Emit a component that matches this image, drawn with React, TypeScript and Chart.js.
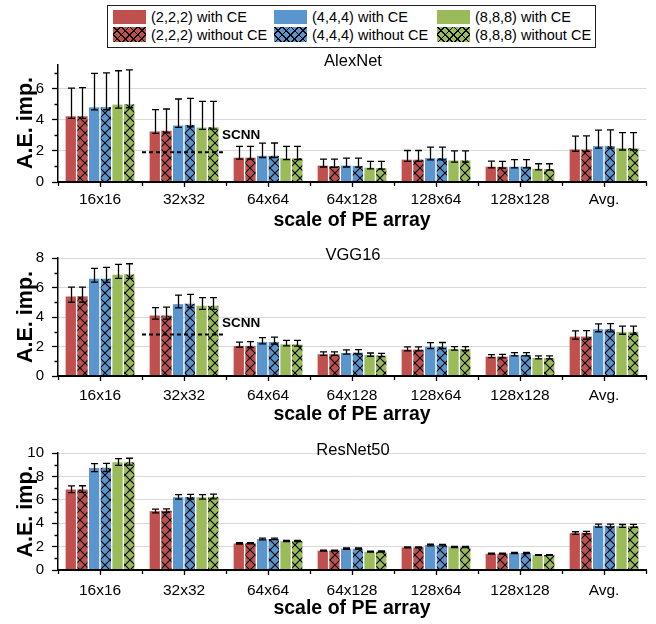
import React, { useEffect, useRef } from 'react';
import { Chart, registerables } from 'chart.js';

Chart.register(...registerables);

const FONT = '"Liberation Sans", Arial, Helvetica, sans-serif';

// ---------- data ----------
const categories = ['16x16', '32x32', '64x64', '64x128', '128x64', '128x128', 'Avg.'];
const seriesLabels = [
  '(2,2,2) with CE',
  '(2,2,2) without CE',
  '(4,4,4) with CE',
  '(4,4,4) without CE',
  '(8,8,8) with CE',
  '(8,8,8) without CE',
];
const panelTitles = ['AlexNet', 'VGG16', 'ResNet50'];
const yMaxes = [7.5, 8, 10];
const yTickStep = 2;
const scnnValues = [1.91, 2.81, null];

// AlexNet: bar value, upper whisker, lower whisker (rows follow seriesLabels)
const alexMean = [
  [4.21, 3.24, 1.56, 1.05, 1.43, 0.98, 2.09],
  [4.21, 3.28, 1.56, 1.02, 1.43, 0.97, 2.08],
  [4.79, 3.62, 1.68, 1.05, 1.53, 0.98, 2.3],
  [4.8, 3.66, 1.68, 1.03, 1.53, 0.98, 2.3],
  [4.96, 3.49, 1.53, 0.92, 1.38, 0.85, 2.17],
  [4.98, 3.51, 1.53, 0.9, 1.38, 0.83, 2.17],
];
const alexHi = [
  [6.02, 4.64, 2.28, 1.47, 2.02, 1.34, 2.94],
  [6.05, 4.68, 2.28, 1.47, 2.02, 1.32, 2.96],
  [6.96, 5.32, 2.49, 1.53, 2.23, 1.43, 3.32],
  [7.0, 5.36, 2.5, 1.53, 2.23, 1.43, 3.34],
  [7.13, 5.17, 2.28, 1.32, 2.0, 1.17, 3.17],
  [7.19, 5.17, 2.28, 1.32, 2.0, 1.17, 3.17],
];
const alexLo = [
  [4.08, 3.12, 1.46, 0.96, 1.32, 0.9, 1.97],
  [4.08, 3.15, 1.46, 0.94, 1.32, 0.89, 1.96],
  [4.62, 3.5, 1.57, 0.96, 1.42, 0.9, 2.17],
  [4.63, 3.54, 1.57, 0.95, 1.42, 0.9, 2.17],
  [4.74, 3.37, 1.43, 0.84, 1.28, 0.78, 2.05],
  [4.76, 3.39, 1.43, 0.82, 1.28, 0.76, 2.05],
];

// VGG16
const vggMean = [
  [5.39, 4.1, 2.04, 1.47, 1.79, 1.31, 2.67],
  [5.4, 4.1, 2.04, 1.47, 1.79, 1.31, 2.67],
  [6.59, 4.87, 2.31, 1.56, 1.99, 1.43, 3.17],
  [6.6, 4.9, 2.31, 1.58, 1.99, 1.43, 3.17],
  [6.87, 4.76, 2.15, 1.41, 1.83, 1.22, 2.99],
  [6.88, 4.76, 2.13, 1.39, 1.81, 1.22, 2.99],
];
const vggHi = [
  [6.03, 4.64, 2.29, 1.63, 1.97, 1.45, 3.06],
  [6.03, 4.67, 2.33, 1.63, 1.97, 1.47, 3.08],
  [7.3, 5.48, 2.6, 1.77, 2.26, 1.59, 3.53],
  [7.36, 5.53, 2.63, 1.79, 2.27, 1.59, 3.55],
  [7.57, 5.32, 2.42, 1.56, 1.99, 1.36, 3.38],
  [7.61, 5.32, 2.42, 1.54, 1.99, 1.36, 3.38],
];
const vggLo = [
  [5.0, 3.85, 1.95, 1.4, 1.7, 1.24, 2.5],
  [5.0, 3.85, 1.93, 1.4, 1.7, 1.23, 2.49],
  [6.36, 4.62, 2.18, 1.48, 1.86, 1.36, 3.0],
  [6.35, 4.63, 2.17, 1.49, 1.86, 1.36, 2.99],
  [6.62, 4.52, 2.04, 1.34, 1.75, 1.16, 2.83],
  [6.62, 4.52, 2.02, 1.32, 1.73, 1.16, 2.83],
];

// ResNet50
const resMean = [
  [6.88, 5.03, 2.27, 1.65, 1.93, 1.39, 3.15],
  [6.88, 5.06, 2.28, 1.65, 1.93, 1.39, 3.18],
  [8.72, 6.22, 2.64, 1.82, 2.13, 1.45, 3.78],
  [8.75, 6.24, 2.65, 1.82, 2.12, 1.45, 3.78],
  [9.21, 6.22, 2.47, 1.56, 1.96, 1.28, 3.75],
  [9.21, 6.25, 2.48, 1.58, 1.96, 1.28, 3.76],
];
const resHi = [
  [7.19, 5.2, 2.33, 1.7, 1.98, 1.43, 3.27],
  [7.2, 5.23, 2.34, 1.7, 1.98, 1.43, 3.3],
  [9.09, 6.45, 2.72, 1.88, 2.2, 1.5, 3.92],
  [9.12, 6.47, 2.73, 1.88, 2.19, 1.5, 3.92],
  [9.52, 6.45, 2.53, 1.61, 2.01, 1.32, 3.89],
  [9.55, 6.48, 2.54, 1.63, 2.01, 1.32, 3.9],
];
const resLo = [
  [6.62, 4.89, 2.22, 1.61, 1.89, 1.35, 3.05],
  [6.64, 4.92, 2.23, 1.61, 1.89, 1.35, 3.08],
  [8.4, 6.05, 2.58, 1.77, 2.07, 1.41, 3.67],
  [8.42, 6.07, 2.59, 1.77, 2.06, 1.41, 3.67],
  [8.95, 6.05, 2.42, 1.52, 1.92, 1.25, 3.64],
  [8.96, 6.08, 2.43, 1.54, 1.92, 1.25, 3.65],
];

// ---------- styles / layout ----------
const seriesColors = ['#C0504D', '#C0504D', '#5A95CE', '#5A95CE', '#9BBB59', '#9BBB59'];
const seriesHatched = [false, true, false, true, false, true];

const layouts = [
  { top: 48, height: 190, plotTop: 64, plotBottom: 182, tickPad: 8, scnnDy: -17 },
  { top: 238, height: 192, plotTop: 258, plotBottom: 376, tickPad: 10, scnnDy: -11.5 },
  { top: 430, height: 194, plotTop: 453, plotBottom: 570, tickPad: 11, scnnDy: -12 },
];
const panelData = [
  { mean: alexMean, hi: alexHi, lo: alexLo },
  { mean: vggMean, hi: vggHi, lo: vggLo },
  { mean: resMean, hi: resHi, lo: resLo },
];

function makeHatch(color: string): CanvasPattern | string {
  const s = 10;
  const c = document.createElement('canvas');
  c.width = s;
  c.height = s;
  const g = c.getContext('2d');
  if (!g) return color;
  g.fillStyle = color;
  g.fillRect(0, 0, s, s);
  g.strokeStyle = '#000';
  g.lineWidth = 1.1;
  g.beginPath();
  g.moveTo(-1, -1);
  g.lineTo(s + 1, s + 1);
  g.moveTo(s + 1, -1);
  g.lineTo(-1, s + 1);
  g.stroke();
  return g.createPattern(c, 'repeat') || color;
}

function Panel({ idx }: { idx: number }) {
  const ref = useRef<HTMLCanvasElement>(null);
  const L = layouts[idx];
  useEffect(() => {
    const canvas = ref.current;
    if (!canvas) return;
    const d = panelData[idx];
    const yMax = yMaxes[idx];
    const scnn = scnnValues[idx];
    const plotTopRel = L.plotTop - L.top;
    const plotBottomRel = L.plotBottom - L.top;

    const overlay = {
      id: 'overlay' + idx,
      afterDatasetsDraw(chart: any) {
        const { ctx, scales } = chart;
        const x = scales.x;
        const y = scales.y;
        ctx.save();
        // error bars
        ctx.strokeStyle = '#000';
        ctx.lineWidth = 1.3;
        for (let i = 0; i < seriesLabels.length; i++) {
          const meta = chart.getDatasetMeta(i);
          meta.data.forEach((el: any, j: number) => {
            const px = Math.round(el.x) + 0.5;
            const yt = y.getPixelForValue(d.hi[i][j]);
            const yb = y.getPixelForValue(d.lo[i][j]);
            ctx.beginPath();
            ctx.moveTo(px, yt);
            ctx.lineTo(px, yb);
            ctx.moveTo(px - 3.5, yt);
            ctx.lineTo(px + 3.5, yt);
            ctx.moveTo(px - 3.5, yb);
            ctx.lineTo(px + 3.5, yb);
            ctx.stroke();
          });
        }
        const half = (x.getPixelForValue(1) - x.getPixelForValue(0)) / 2;
        // SCNN reference line
        if (scnn !== null) {
          const cx = x.getPixelForValue(1);
          const yy = y.getPixelForValue(scnn);
          ctx.setLineDash([4, 3]);
          ctx.lineWidth = 2;
          ctx.beginPath();
          ctx.moveTo(cx - half, yy);
          ctx.lineTo(cx + half, yy);
          ctx.stroke();
          ctx.setLineDash([]);
          ctx.fillStyle = '#000';
          ctx.font = 'bold 13.5px ' + FONT;
          ctx.textAlign = 'left';
          ctx.textBaseline = 'middle';
          ctx.fillText('SCNN', cx + half - 4, yy + L.scnnDy);
        }
        // x tick marks (centers and boundaries)
        ctx.lineWidth = 1.3;
        ctx.strokeStyle = '#000';
        const bottom = chart.chartArea.bottom;
        ctx.beginPath();
        for (let k = 0; k < categories.length; k++) {
          const c = Math.round(x.getPixelForValue(k)) + 0.5;
          ctx.moveTo(c, bottom);
          ctx.lineTo(c, bottom + 5);
        }
        for (let k = 0; k <= categories.length; k++) {
          const b = Math.round(x.getPixelForValue(0) - half + 2 * half * k) + 0.5;
          ctx.moveTo(b, bottom);
          ctx.lineTo(b, bottom + 4);
        }
        ctx.stroke();
        // minor y ticks
        const left = chart.chartArea.left;
        ctx.beginPath();
        for (let v = yTickStep / 2; v < yMax; v += yTickStep) {
          const py = Math.round(y.getPixelForValue(v)) + 0.5;
          ctx.moveTo(left, py);
          ctx.lineTo(left - 3.5, py);
        }
        ctx.stroke();
        ctx.restore();
      },
      afterDraw(chart: any) {
        const { ctx } = chart;
        ctx.save();
        ctx.fillStyle = '#000';
        // panel title
        ctx.font = '16.5px ' + FONT;
        ctx.textAlign = 'center';
        ctx.textBaseline = 'alphabetic';
        ctx.fillText(panelTitles[idx], 353, plotTopRel + 1.5);
        // x title
        ctx.font = 'bold 19.5px ' + FONT;
        ctx.fillText('scale of PE array', 352, plotBottomRel + 44);
        // y title
        ctx.translate(31.5, (plotTopRel + plotBottomRel) / 2);
        ctx.rotate(-Math.PI / 2);
        ctx.font = 'bold 21.5px ' + FONT;
        ctx.fillText('A.E. imp.', 0, 0);
        ctx.restore();
      },
    };

    const chart = new Chart(canvas, {
      type: 'bar',
      data: {
        labels: categories,
        datasets: seriesLabels.map((label, i) => ({
          label,
          data: d.mean[i],
          backgroundColor: seriesHatched[i] ? (makeHatch(seriesColors[i]) as any) : seriesColors[i],
          borderWidth: 0,
          categoryPercentage: 0.835,
          barPercentage: 0.88,
        })),
      },
      options: {
        animation: false,
        responsive: false,
        maintainAspectRatio: false,
        events: [],
        layout: { padding: { left: 0, right: 10, top: plotTopRel, bottom: 0 } },
        plugins: {
          legend: { display: false },
          tooltip: { enabled: false },
          title: { display: false },
        },
        scales: {
          x: {
            type: 'category',
            offset: true,
            grid: { display: false, drawTicks: false },
            border: { display: true, color: '#000', width: 2, z: 1 },
            ticks: {
              color: '#000',
              font: { family: FONT, size: 15.5 },
              padding: L.tickPad,
              maxRotation: 0,
              autoSkip: false,
            },
            afterFit: (s: any) => {
              s.height = L.height - plotBottomRel;
            },
          },
          y: {
            type: 'linear',
            min: 0,
            max: yMax,
            ticks: {
              stepSize: yTickStep,
              includeBounds: false,
              color: '#000',
              font: { family: FONT, size: 15 },
              padding: 8,
            },
            grid: {
              color: (c: any) => (c.tick && c.tick.value === 0 ? 'rgba(0,0,0,0)' : '#D9D9D9'),
              lineWidth: 1,
              drawTicks: true,
              tickLength: 6,
              tickColor: '#000',
              tickWidth: 1.3,
            },
            border: { display: true, color: '#000', width: 1.5 },
            afterFit: (s: any) => {
              s.width = 58;
            },
          },
        },
      } as any,
      plugins: [overlay],
    });
    return () => chart.destroy();
  }, [idx]);
  return (
    <canvas
      ref={ref}
      width={656}
      height={L.height}
      style={{ position: 'absolute', left: 0, top: L.top, width: 656, height: L.height, display: 'block' }}
    />
  );
}

const legendCols = [113, 274, 437];
const legendRows = [16.8, 34.6];

function swatchStyle(i: number): React.CSSProperties {
  const base: React.CSSProperties = { backgroundColor: seriesColors[i] };
  if (seriesHatched[i]) {
    const line = (deg: number) =>
      `repeating-linear-gradient(${deg}deg, transparent 0px, transparent 4.6px, #000 4.6px, #000 5.8px)`;
    base.backgroundImage = `${line(45)}, ${line(-45)}`;
  }
  return base;
}

function Legend() {
  return (
    <div
      style={{
        position: 'absolute',
        left: 107,
        top: 5,
        width: 487,
        height: 41,
        border: '1px solid #222',
        boxSizing: 'content-box',
      }}
    >
      {seriesLabels.map((label, i) => {
        const col = Math.floor(i / 2);
        const row = i % 2;
        const cx = legendCols[col] - 108;
        const cy = legendRows[row] - 6;
        return (
          <React.Fragment key={label}>
            <div
              style={{
                position: 'absolute',
                left: cx,
                top: cy - 7.2,
                width: 33,
                height: 14.5,
                ...swatchStyle(i),
              }}
            />
            <div
              style={{
                position: 'absolute',
                left: cx + 38,
                top: cy - 9,
                height: 18,
                lineHeight: '18px',
                fontSize: 14.5,
                fontFamily: FONT,
                color: '#000',
                whiteSpace: 'nowrap',
              }}
            >
              {label}
            </div>
          </React.Fragment>
        );
      })}
    </div>
  );
}

export default function App() {
  return (
    <div
      style={{
        position: 'absolute',
        left: 0,
        top: 0,
        width: 656,
        height: 624,
        background: '#fff',
        overflow: 'hidden',
      }}
    >
      <Legend />
      <Panel idx={0} />
      <Panel idx={1} />
      <Panel idx={2} />
    </div>
  );
}
